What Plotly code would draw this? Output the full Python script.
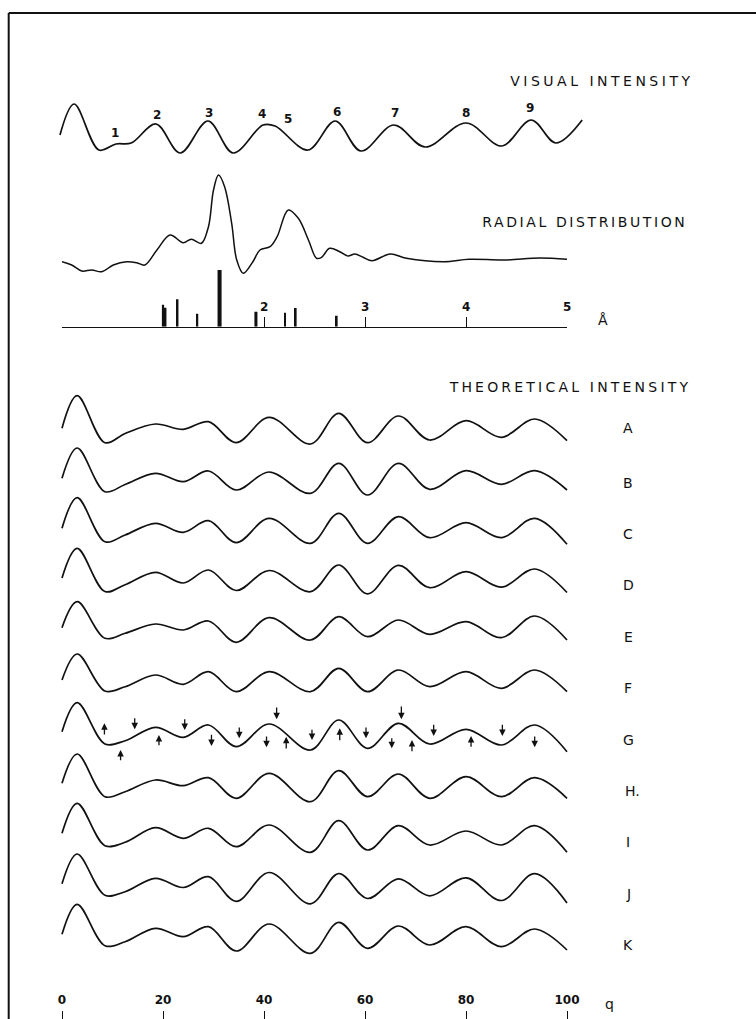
import plotly.graph_objects as go

W, H = 756, 1019
FONT = "DejaVu Sans"
INK = "#111111"

# ---------------- data ----------------
# Visual intensity curve (q units, relative intensity)
vis_q = [-0.4, 2.4, 7.3, 10.7, 13.7, 18.6, 23.4, 28.9, 33.9, 39.8, 42.2, 48.7,
         54.1, 59.2, 65.7, 71.9, 80.0, 87.1, 92.9, 97.8, 103.0]
vis_i = [25, 56, 10, 16, 17, 36, 7, 39, 7, 35, 34, 10, 39, 9, 35, 13, 37, 14, 40, 17, 40]
vis_peak_q = [10.5, 18.8, 29.1, 39.6, 44.8, 54.5, 65.9, 80.0, 92.7]
vis_peak_h = [27, 45, 47, 46, 41, 48, 47, 47, 52]
vis_peak_lbl = ["1", "2", "3", "4", "5", "6", "7", "8", "9"]

# Radial distribution curve (r in Angstrom)
rad_r = [0.0, 0.096, 0.195, 0.294, 0.393, 0.508, 0.64, 0.74, 0.82, 0.94, 1.07, 1.2,
         1.28, 1.38, 1.45, 1.5, 1.55, 1.61, 1.68, 1.73, 1.795, 1.89, 1.96, 2.06,
         2.13, 2.24, 2.34, 2.44, 2.52, 2.57, 2.65, 2.75, 2.83, 2.9, 2.98, 3.07,
         3.25, 3.41, 3.78, 4.03, 4.38, 4.73, 5.0]
rad_v = [18.3, 15, 9, 10, 8.3, 15, 18.3, 17.3, 15, 30, 45, 37.3, 40.7, 36.7, 53.3,
         90, 105, 93.3, 56.7, 20, 6.7, 18.3, 30, 33.3, 43.3, 70, 61.7, 40, 21.7,
         22.7, 31.7, 28.3, 24, 26, 22.7, 19.3, 26, 21.7, 18.3, 20.7, 20, 22, 20.7]

# Interatomic distances (stick spectrum)
stick_r = [1.00, 1.025, 1.145, 1.34, 1.56, 1.92, 2.21, 2.31, 2.72]
stick_h = [22, 19, 27.5, 13, 56.7, 15, 14, 18.7, 11]
stick_w = [0.022, 0.018, 0.016, 0.018, 0.04, 0.03, 0.016, 0.026, 0.018]
ang_ticks = [2, 3, 4, 5]
ang_ticklabels = ["2", "3", "4", "5"]

# Theoretical intensity curves A..K (common q grid)
theo_q = [0, 3, 8.5, 12.5, 18.5, 24, 29, 34.5, 41, 49.2, 54.8, 60.5, 66.6, 72.8, 80, 87, 93.6, 100]
curve_A = [19.7, 52.3, 5.3, 14.5, 24, 18.7, 26.3, 5.3, 30.7, 4, 34.7, 5.3, 32, 8, 27.3, 10.7, 29, 7.3]
curve_B = [24.7, 55, 11.3, 18.5, 29.7, 21.3, 32, 13, 31, 9.7, 39.7, 8, 39.7, 13.7, 32.3, 18.7, 32.3, 13]
curve_C = [25.7, 56.3, 12.3, 19, 30.7, 21.7, 33.3, 11.3, 35.7, 10.7, 40.7, 10.7, 37.3, 16.3, 31.3, 16.3, 35.7, 9.7]
curve_D = [27, 56.7, 13.5, 20.3, 32.7, 22, 35, 14.5, 34.5, 13.3, 40, 11.2, 39.7, 17.3, 33.3, 17.8, 36, 12.5]
curve_E = [29.3, 55.3, 18.7, 23.7, 33, 27, 36, 14.7, 39.3, 17, 40.3, 20.3, 37, 22.7, 35.3, 19.3, 41, 17]
curve_F = [28, 54, 17, 21.3, 33, 23.7, 36.3, 16.3, 36.3, 16.3, 39.7, 16.3, 38, 21.3, 36.3, 19.7, 38, 16.3]
curve_G = [28.3, 57.3, 16, 19.3, 32.7, 22.7, 35, 13.3, 36, 10, 40, 11.7, 36.7, 16, 30.7, 15, 35, 8.3]
curve_H = [27.7, 57, 14.3, 19.3, 31, 25.3, 33.3, 12.7, 37.7, 9.3, 40.3, 14.3, 37, 12.7, 34.3, 14.3, 33.3, 12.7]
curve_I = [28.7, 58.7, 16.3, 19.7, 34.3, 23.7, 33.7, 15.3, 37, 9.7, 41.3, 12, 36.3, 17, 31, 17, 36.3, 9.7]
curve_J = [30.2, 60, 18.7, 22.3, 35.7, 26.5, 37.3, 12.7, 41.5, 10.2, 40.5, 15.5, 35.2, 18.2, 36.2, 13.5, 40.3, 11]
curve_K = [30.7, 60.7, 19.3, 23.3, 36.7, 28.3, 38.3, 14, 41, 11.7, 42.7, 16.7, 39, 20, 38.3, 18.3, 36, 15]
theo_names = ["A", "B", "C", "D", "E", "F", "G", "H.", "I", "J", "K"]
theo_curves = [curve_A, curve_B, curve_C, curve_D, curve_E, curve_F,
               curve_G, curve_H, curve_I, curve_J, curve_K]

# Arrows marked on curve G
arrow_q = [8.4, 11.6, 14.4, 19.2, 24.3, 29.6, 35.1, 40.5, 42.5, 44.4, 49.5, 55.0,
           60.2, 65.3, 67.2, 69.3, 73.6, 81.0, 87.2, 93.6]
arrow_dir = ["up", "up", "down", "up", "down", "down", "down", "down", "down", "up",
             "down", "up", "down", "down", "down", "up", "down", "up", "down", "down"]
arrow_top = [36.7, 10, 43.3, 25, 42.3, 26.7, 34, 25, 54, 23.3, 31.7, 31.7, 34, 23.3,
             55, 20, 36.7, 24, 36.7, 25]
arrow_bot = [24, -1.7, 30.7, 13.3, 30, 14, 21.7, 12.7, 40.7, 10, 20, 18.3, 21.7, 11.7,
             40.7, 7.3, 24, 11.7, 24, 12.7]

q_ticks = [0, 20, 40, 60, 80, 100]
q_ticklabels = ["0", "20", "40", "60", "80", "100"]

# ---------------- layout geometry (pixels) ----------------
Q0_PX, Q_PX = 62.0, 5.05          # pixel of q=0 and pixels per q unit
q_lo = (0 - Q0_PX) / Q_PX
q_hi = (W - Q0_PX) / Q_PX

vis_ref, rad_ref, stick_ref = 160, 280, 326.7
theo_ref = [448, 503, 554, 605, 657, 708, 760, 811, 862, 914, 965]
label_x_q = (628 - Q0_PX) / Q_PX


def dom(ref_px, lo, hi):
    return [1 - (ref_px - lo) / H, 1 - (ref_px - hi) / H]


fig = go.Figure()
line = dict(color=INK, width=1.7, shape="spline", smoothing=1.0)

fig.add_trace(go.Scatter(x=vis_q, y=vis_i, mode="lines", line=line, xaxis="x", yaxis="y"))
fig.add_trace(go.Scatter(x=rad_r, y=rad_v, mode="lines", line=dict(line, width=1.5),
                         xaxis="x2", yaxis="y2"))
fig.add_trace(go.Bar(x=stick_r, y=stick_h, width=stick_w,
                     marker=dict(color=INK, line=dict(width=0)), xaxis="x2", yaxis="y3"))
for i, c in enumerate(theo_curves):
    fig.add_trace(go.Scatter(x=theo_q, y=c, mode="lines", line=line,
                             xaxis="x", yaxis="y%d" % (4 + i)))

digit_font = dict(family=FONT, size=12, color=INK, weight=600)

layout = dict(
    width=W, height=H, autosize=False, showlegend=False,
    margin=dict(l=0, r=0, t=0, b=0, pad=0),
    paper_bgcolor="white", plot_bgcolor="rgba(0,0,0,0)",
    font=dict(family=FONT, color=INK),
    xaxis=dict(domain=[0, 1], range=[q_lo, q_hi], anchor="free", position=0,
               showgrid=False, zeroline=False, showline=False,
               ticks="inside", ticklen=8, tickwidth=1.3, tickcolor=INK,
               tickvals=q_ticks, ticktext=q_ticklabels, ticklabelposition="inside",
               ticklabelstandoff=4, tickfont=digit_font),
    xaxis2=dict(domain=[Q0_PX / W, (Q0_PX + 100 * Q_PX) / W], range=[0, 5], anchor="y3",
                showgrid=False, zeroline=False, showline=True, linecolor=INK, linewidth=1.3,
                ticks="inside", ticklen=10, tickwidth=1.1, tickcolor=INK,
                tickvals=ang_ticks, showticklabels=False),
    yaxis=dict(domain=dom(vis_ref, -10, 70), range=[-10, 70], visible=False, anchor="x"),
    yaxis2=dict(domain=dom(rad_ref, -5, 115), range=[-5, 115], visible=False, anchor="x2"),
    yaxis3=dict(domain=dom(stick_ref, 0, 65), range=[0, 65], visible=False, anchor="x2"),
)
for i, ref in enumerate(theo_ref):
    layout["yaxis%d" % (4 + i)] = dict(domain=dom(ref, -10, 70), range=[-10, 70],
                                        visible=False, anchor="x")
fig.update_layout(**layout)


def paper_text(t, xpx, ypx, size=14):
    return dict(text=t, xref="paper", yref="paper", x=xpx / W, y=1 - ypx / H,
                xanchor="center", yanchor="middle", showarrow=False, font=dict(size=size))


ann = []
ann.append(paper_text("VISUAL INTENSITY", 601.5, 81))
ann.append(paper_text("RADIAL DISTRIBUTION", 584.5, 222))
ann.append(paper_text("THEORETICAL INTENSITY", 570, 386.7))
for qv, hv, t in zip(vis_peak_q, vis_peak_h, vis_peak_lbl):
    ann.append(dict(text=t, x=qv, y=hv, xref="x", yref="y", showarrow=False,
                    xanchor="center", yanchor="middle", font=digit_font))
# Angstrom tick labels just above the inside ticks
for tv, tl in zip(ang_ticks, ang_ticklabels):
    ann.append(dict(text=tl, x=tv, y=11, xref="x2", yref="y3", showarrow=False,
                    xanchor="center", yanchor="bottom", font=digit_font))
for i, n in enumerate(theo_names):
    ann.append(dict(text=n, x=label_x_q, y=20, xref="x", yref="y%d" % (4 + i), showarrow=False,
                    font=dict(size=14), yanchor="middle",
                    xanchor="left" if n == "H." else "center",
                    xshift=-5 if n == "H." else 0))
ann.append(paper_text("Å", 603, 320))
ann.append(paper_text("q", 609, 1004))
g_axis = "y%d" % (4 + theo_names.index("G"))
for qv, d, top, bot in zip(arrow_q, arrow_dir, arrow_top, arrow_bot):
    head, tail = (top, bot) if d == "up" else (bot, top)
    ann.append(dict(text="", x=qv, y=head, ax=qv, ay=tail, xref="x", yref=g_axis,
                    axref="x", ayref=g_axis, showarrow=True, arrowhead=2, arrowsize=1.0,
                    arrowwidth=1.3, arrowcolor=INK, standoff=0, startstandoff=0))
fig.update_layout(annotations=ann)

# frame
fig.add_shape(type="line", xref="paper", yref="paper", x0=8.7 / W, x1=1, y0=1 - 13 / H, y1=1 - 13 / H,
              line=dict(color=INK, width=2))
fig.add_shape(type="line", xref="paper", yref="paper", x0=8.7 / W, x1=8.7 / W, y0=0, y1=1 - 13 / H,
              line=dict(color=INK, width=2))

post = """
document.body.style.margin='0';
var sp = {'VISUAL INTENSITY':3.5, 'RADIAL DISTRIBUTION':2.6, 'THEORETICAL INTENSITY':3.2};
document.querySelectorAll('.annotation-text').forEach(function(t){
  var s = sp[t.textContent];
  if (s !== undefined) {
    var r0 = t.getBoundingClientRect();
    t.style.letterSpacing = s + 'px';
    var r1 = t.getBoundingClientRect();
    var dx = (r0.left + r0.width / 2) - (r1.left + r1.width / 2);
    var x = parseFloat(t.getAttribute('x') || '0');
    t.setAttribute('x', x + dx);
  }
});
"""
fig.write_html("out.html", config={"displayModeBar": False}, post_script=post)
